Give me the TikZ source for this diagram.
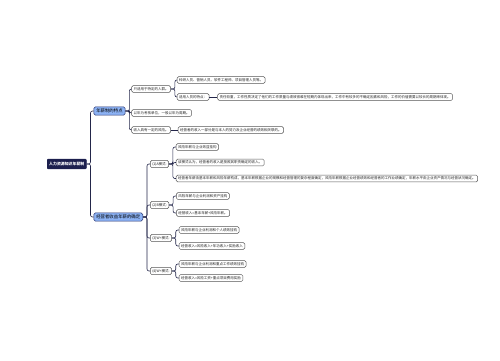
\documentclass[tikz,border=0pt]{standalone}
\usepackage{fontspec}
\newfontfamily\cjk{Noto Sans CJK SC}
\definecolor{rootc}{HTML}{1C1F4E}
\definecolor{brc}{HTML}{8CB2F4}
\definecolor{brd}{HTML}{2A3470}
\definecolor{leafd}{HTML}{555555}
\definecolor{linec}{HTML}{23264A}
\tikzset{
  rootbox/.style={draw=rootc, fill=rootc, text=white, rounded corners=0.8pt, anchor=west,
    inner xsep=2pt, inner ysep=3pt, font=\cjk\bfseries\fontsize{3.9}{4.5}\selectfont},
  brbox/.style={draw=brd, fill=brc, text=black, rounded corners=1.5pt, anchor=west, line width=0.5pt,
    inner xsep=2.5pt, inner ysep=2pt, font=\cjk\fontsize{4.4}{5}\selectfont},
  leaf/.style={draw=leafd, fill=white, text=black!85, rounded corners=1.5pt, anchor=west, line width=0.5pt,
    inner xsep=2pt, inner ysep=1.8pt, font=\cjk\fontsize{3.5}{4}\selectfont},
  conn/.style={draw=linec, line width=0.6pt, rounded corners=2pt},
}
\newcommand{\lnk}[2]{\draw[conn] (#1.east) -- ++(4pt,0) |- (#2.west);}
\begin{document}
\begin{tikzpicture}[x=1pt,y=-1pt]
\useasboundingbox (0,0) rectangle (500,360);
\node[rootbox] (root) at (47,164) {人力资源知识年薪制};
% branch 1
\node[brbox, yshift=53pt] (b1) at ([xshift=7pt]root.east) {年薪制的特点};
\node[brbox, yshift=-53pt] (b2) at ([xshift=7pt]root.east) {经营者收益年薪的确定};
\lnk{root}{b1}\lnk{root}{b2}
\node[leaf, yshift=22pt] (c1) at ([xshift=6pt]b1.east) {只适用于特定的人群。};
\node[leaf, yshift=-2pt] (c2) at ([xshift=6pt]b1.east) {以年为考核单位，一般以年为周期。};
\node[leaf, yshift=-19pt] (c3) at ([xshift=6pt]b1.east) {收入具有一定的风险。};
\lnk{b1}{c1}\lnk{b1}{c2}\lnk{b1}{c3}
\node[leaf, yshift=9pt] (g1) at ([xshift=6pt]c1.east) {科研人员、营销人员、软件工程师、项目管理人员等。};
\node[leaf, yshift=-8pt] (g2) at ([xshift=6pt]c1.east) {适用人员的特点：};
\lnk{c1}{g1}\lnk{c1}{g2}
\node[leaf] (gg) at ([xshift=8pt]g2.east) {责任较重，工作性质决定了他们的工作质量与绩效很难在短期内体现出来，工作中有较多的不确定因素和风险，工作的价值需要以较长的周期来体现。};
\draw[conn] (g2.east) -- (gg.west);
\node[leaf] (r1) at ([xshift=7pt]c3.east) {经营者的收入一部分是与本人的努力及企业经营的绩效相关联的。};
\draw[conn] (c3.east) -- (r1.west);
% branch 2
\node[leaf, yshift=53pt] (mA) at ([xshift=7pt]b2.east) {(1)A模式:};
\node[leaf, yshift=12pt] (mB) at ([xshift=7pt]b2.east) {(2)B模式:};
\node[leaf, yshift=-21pt] (mC) at ([xshift=7pt]b2.east) {(3)W+模式:};
\node[leaf, yshift=-54pt] (mD) at ([xshift=7pt]b2.east) {(4)W+模式:};
\lnk{b2}{mA}\lnk{b2}{mB}\lnk{b2}{mC}\lnk{b2}{mD}
\node[leaf, yshift=17pt] (a1) at ([xshift=7pt]mA.east) {风险年薪与企业效益挂钩};
\node[leaf, yshift=1.5pt] (a2) at ([xshift=7pt]mA.east) {该模式认为，经营者的收入是按照其职责确定的收入。};
\node[leaf, yshift=-14.5pt] (a3) at ([xshift=7pt]mA.east) {经营者年薪由基本年薪和风险年薪构成，基本年薪根据企业的规模和经营管理的复杂程度确定，风险年薪根据企业经营绩效和经营者的工作业绩确定，年薪水平由企业资产情况与经营状况确定。};
\lnk{mA}{a1}\lnk{mA}{a2}\lnk{mA}{a3}
\node[leaf, yshift=9pt] (bb1) at ([xshift=7pt]mB.east) {风险年薪与企业利润和资产挂钩};
\node[leaf, yshift=-8pt] (bb2) at ([xshift=7pt]mB.east) {经营收入=基本年薪+风险年薪。};
\lnk{mB}{bb1}\lnk{mB}{bb2}
\node[leaf, yshift=8pt] (cc1) at ([xshift=7pt]mC.east) {风险年薪与企业利润和个人绩效挂钩};
\node[leaf, yshift=-8pt] (cc2) at ([xshift=7pt]mC.east) {经营收入=风险收入+年功收入+奖励收入};
\lnk{mC}{cc1}\lnk{mC}{cc2}
\node[leaf, yshift=7pt] (dd1) at ([xshift=7pt]mD.east) {风险年薪与企业利润和重点工作绩效挂钩};
\node[leaf, yshift=-7pt] (dd2) at ([xshift=7pt]mD.east) {经营收入=风险工资+重点项目费用奖励};
\lnk{mD}{dd1}\lnk{mD}{dd2}
\end{tikzpicture}
\end{document}
